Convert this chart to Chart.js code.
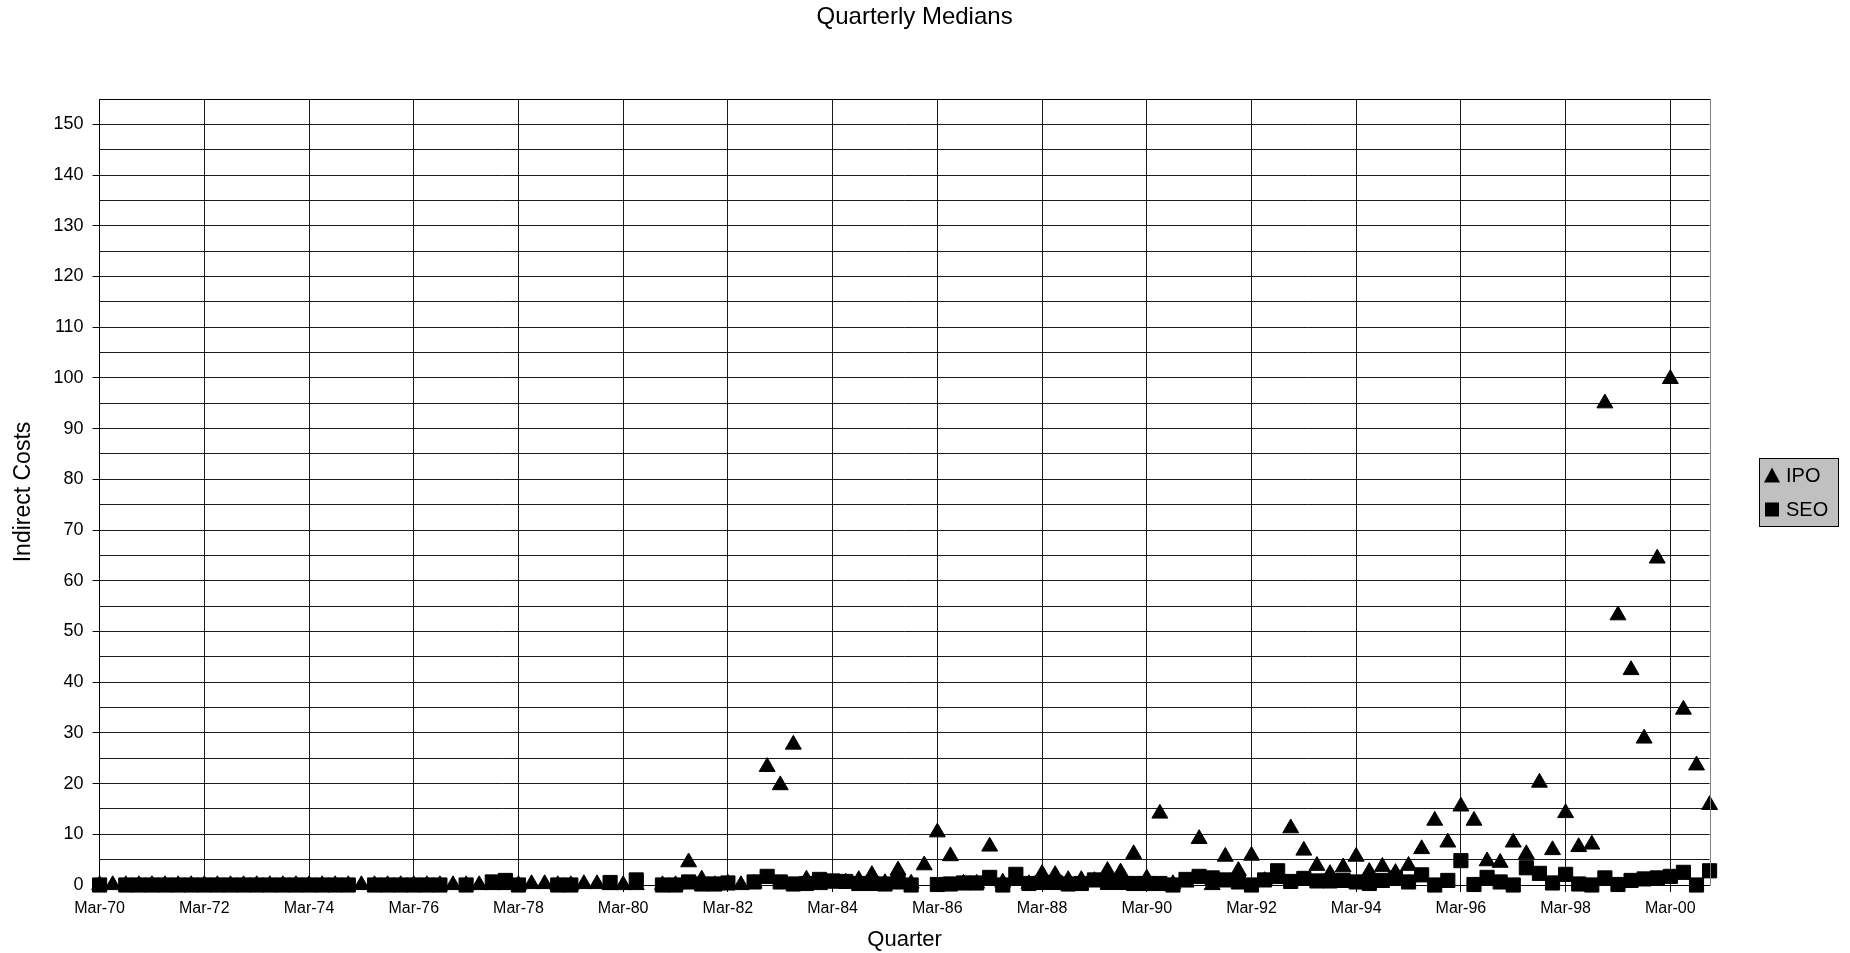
<!DOCTYPE html>
<html>
<head>
<meta charset="utf-8">
<title>Quarterly Medians</title>
<script src="https://cdn.jsdelivr.net/npm/chart.js@4.4.0/dist/chart.umd.min.js"></script>
<style>
  html, body { margin: 0; padding: 0; background: #fff; }
  canvas { display: block; }
</style>
</head>
<body>
<canvas id="chart" width="1850" height="953"></canvas>
<script>
// quarter index 0 = Mar-70, 1 = Jun-70 ... 123 = Dec-00
const ipo = [
  0, 0, 0, 0, 0, 0, 0, 0, 0, 0, 0, 0, 0, 0, 0, 0,
  0, 0, 0, 0, 0, 0, 0, 0, 0, 0, 0, 0, 0, 0, 0, 0,
  0, 0.2, 0.2, 0, 0, 0.2, 0.2, 0, 0, 0, null, 0, 0, 4.5, 1.1, 0,
  0.3, 0, 0.3, 23.3, 19.7, 27.7, 1.1, 0, 0.3, 0.5, 1.0, 2.0, 0.4, 2.9, 0.3, 3.9,
  10.4, 5.7, 0.3, 0.3, 7.6, 0.5, 1.0, 0.2, 2.2, 2.0, 1.0, 1.0, 0.8, 2.8, 2.5, 6.1,
  1.3, 14.1, 0.2, 0.5, 9.1, 0, 5.6, 2.8, 5.8, 0.8, 1.2, 11.2, 6.8, 3.8, 2.2, 3.5,
  5.6, 2.6, 3.6, 2.4, 3.8, 7.1, 12.7, 8.4, 15.5, 12.7, 4.7, 4.4, 8.4, 6.1, 20.2, 6.9,
  14.2, 7.5, 8.0, 95.0, 53.2, 42.4, 28.9, 64.4, 99.8, 34.6, 23.6, 15.8
];
const seo = [
  0, null, 0, 0, 0, 0, 0, 0, 0, 0, 0, 0, 0, 0, 0, 0,
  0, 0, 0, 0, null, 0, 0, 0, 0, 0, 0, null, 0, null, 0.6, 0.9,
  0, null, null, 0, 0, null, null, 0.5, null, 1.0, null, 0, 0, 0.6, 0.2, 0.2,
  0.4, null, 0.6, 1.7, 0.6, 0.2, 0.3, 1.1, 0.8, 0.7, 0.3, 0.3, 0.2, 0.6, 0, null,
  0.1, 0.2, 0.4, 0.4, 1.5, 0, 2.1, 0.3, 0.5, 0.5, 0.2, 0.3, 1.0, 0.5, 0.5, 0.3,
  0.3, 0.3, 0, 1.1, 1.7, 1.4, 1.0, 0.6, 0, 1.0, 2.8, 0.7, 1.3, 0.8, 0.8, 0.9,
  0.6, 0.3, 0.9, 1.4, 0.6, 2.0, 0, 0.9, 4.8, 0.1, 1.5, 0.6, 0, 3.4, 2.3, 0.4,
  2.1, 0.2, 0, 1.4, 0.1, 0.9, 1.2, 1.4, 1.7, 2.5, 0, 2.8
];
const tickQuarters = [0, 8, 16, 24, 32, 40, 48, 56, 64, 72, 80, 88, 96, 104, 112, 120];
const tickLabels = ['Mar-70', 'Mar-72', 'Mar-74', 'Mar-76', 'Mar-78', 'Mar-80', 'Mar-82', 'Mar-84',
  'Mar-86', 'Mar-88', 'Mar-90', 'Mar-92', 'Mar-94', 'Mar-96', 'Mar-98', 'Mar-00'];

const FONT = "'Liberation Sans', Arial, sans-serif";

const toPoints = arr => arr.map((v, i) => ({ x: i, y: v }));

// excel style frame round the plot area + grey legend box on the right
const frameAndLegend = {
  id: 'frameAndLegend',
  afterDraw(chart) {
    const ctx = chart.ctx;
    const a = chart.chartArea;
    ctx.save();
    ctx.strokeStyle = '#000';
    ctx.lineWidth = 1;
    ctx.beginPath();
    ctx.moveTo(Math.round(a.left) + 0.5, Math.round(a.top) + 0.5);
    ctx.lineTo(Math.round(a.right) + 0.5, Math.round(a.top) + 0.5);
    ctx.stroke();
    ctx.strokeStyle = '#808080';
    ctx.beginPath();
    ctx.moveTo(Math.round(a.right) + 0.5, Math.round(a.top) + 0.5);
    ctx.lineTo(Math.round(a.right) + 0.5, Math.round(a.bottom) + 0.5);
    ctx.stroke();

    const bx = 1759.5, by = 458.5, bw = 79, bh = 68;
    ctx.fillStyle = '#c0c0c0';
    ctx.fillRect(bx, by, bw, bh);
    ctx.strokeStyle = '#000';
    ctx.strokeRect(bx, by, bw, bh);

    ctx.fillStyle = '#000';
    ctx.font = '20px ' + FONT;
    ctx.textBaseline = 'middle';
    ctx.textAlign = 'left';
    const rows = [475.5, 509.5];
    chart.data.datasets.forEach((ds, i) => {
      const cx = 1772, cy = rows[i];
      ctx.beginPath();
      if (ds.pointStyle === 'triangle') {
        ctx.moveTo(cx, cy - 8);
        ctx.lineTo(cx + 8, cy + 7);
        ctx.lineTo(cx - 8, cy + 7);
        ctx.closePath();
      } else {
        ctx.rect(cx - 7, cy - 7, 14, 14);
      }
      ctx.fill();
      ctx.fillText(ds.label, 1786, cy + 1);
    });
    ctx.restore();
  }
};

new Chart(document.getElementById('chart').getContext('2d'), {
  type: 'scatter',
  data: {
    datasets: [
      {
        label: 'IPO',
        data: toPoints(ipo),
        pointStyle: 'triangle',
        pointRadius: 9.2,
        pointHoverRadius: 9.2,
        borderWidth: 1,
        backgroundColor: '#000',
        borderColor: '#000',
        clip: false,
        order: 1
      },
      {
        label: 'SEO',
        data: toPoints(seo),
        pointStyle: 'rect',
        pointRadius: 10,
        pointHoverRadius: 10,
        borderWidth: 1,
        backgroundColor: '#000',
        borderColor: '#000',
        clip: false,
        order: 0
      }
    ]
  },
  options: {
    responsive: false,
    animation: false,
    devicePixelRatio: 1,
    layout: { padding: { left: 0, right: 20.8, top: 0, bottom: 0 } },
    plugins: {
      legend: { display: false },
      tooltip: { enabled: false },
      title: {
        display: true,
        text: 'Quarterly Medians',
        color: '#000',
        font: { family: FONT, size: 24, weight: 'normal' },
        padding: { top: 3.3, bottom: 66.9 }
      }
    },
    scales: {
      x: {
        type: 'linear',
        min: 0,
        max: 123,
        afterBuildTicks: scale => { scale.ticks = tickQuarters.map(v => ({ value: v })); },
        afterFit: scale => { scale.height = 68; },
        grid: { color: '#1a1a1a', lineWidth: 1, tickLength: 7, tickColor: '#000' },
        border: { color: '#000', width: 1 },
        ticks: {
          color: '#000',
          font: { family: FONT, size: 16 },
          padding: 7,
          maxRotation: 0,
          autoSkip: false,
          callback: v => tickLabels[tickQuarters.indexOf(v)]
        },
        title: {
          display: true,
          text: 'Quarter',
          color: '#000',
          font: { family: FONT, size: 22 },
          padding: { top: 0, bottom: 0 }
        }
      },
      y: {
        min: 0,
        max: 155,
        afterFit: scale => { scale.width = 99.6; },
        grid: {
          color: '#1a1a1a',
          lineWidth: 1,
          tickLength: 7,
          tickColor: c => (c.tick && c.tick.value % 10 === 0 ? '#000' : 'rgba(0,0,0,0)')
        },
        border: { color: '#000', width: 1 },
        ticks: {
          stepSize: 5,
          color: '#000',
          font: { family: FONT, size: 18 },
          padding: 9,
          callback: v => (v % 10 === 0 ? v : '')
        },
        title: {
          display: true,
          text: 'Indirect Costs',
          color: '#000',
          font: { family: FONT, size: 23 },
          padding: { top: 10.2, bottom: 0 }
        }
      },
      // empty right-hand box that keeps room for the legend
      side: {
        position: 'right',
        display: true,
        afterFit: scale => { scale.width = 119.6; },
        grid: { display: false },
        border: { display: false },
        ticks: { display: false }
      }
    }
  },
  plugins: [frameAndLegend]
});
</script>
</body>
</html>
